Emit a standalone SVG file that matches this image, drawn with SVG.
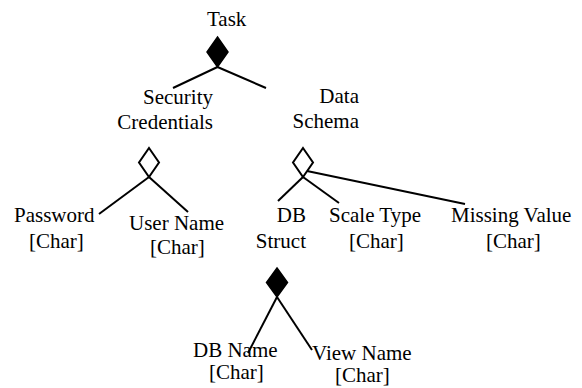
<svg xmlns="http://www.w3.org/2000/svg" width="582" height="388" viewBox="0 0 582 388">
<style>
text{font-family:"Liberation Serif","Times New Roman",serif;font-size:21px;fill:#000}
.e{text-anchor:end}
.c{stroke:#000;stroke-width:2;fill:none}
.df{fill:#000;stroke:#000;stroke-width:1.5}
.dh{fill:#fff;stroke:#000;stroke-width:2}
</style>
<rect width="582" height="388" fill="#fff"/>
<g id="connectors">
<line class="c" x1="217.5" y1="67" x2="173" y2="88"/>
<line class="c" x1="217.5" y1="67" x2="266" y2="88"/>
<line class="c" x1="149" y1="177" x2="99" y2="214"/>
<line class="c" x1="149" y1="177" x2="188" y2="212"/>
<line class="c" x1="303" y1="177" x2="278" y2="201"/>
<line class="c" x1="303" y1="177" x2="339" y2="203"/>
<line class="c" x1="307" y1="171" x2="465" y2="204"/>
<line class="c" x1="277" y1="297" x2="248" y2="353"/>
<line class="c" x1="277" y1="297" x2="312" y2="350"/>
</g>
<g id="task"><text x="207" y="26">Task</text>
<polygon class="df" points="217.5,37 228,52 217.5,67 207,52"/></g>
<g id="security"><text class="e" x="213" y="104">Security</text><text class="e" x="213" y="129">Credentials</text>
<polygon class="dh" points="149,148 159,162.5 149,177 139,162.5"/></g>
<g id="schema"><text class="e" x="359" y="103">Data</text><text class="e" x="359" y="128">Schema</text>
<polygon class="dh" points="303,148 313,162.5 303,177 293,162.5"/></g>
<g id="password"><text x="14" y="222">Password</text><text x="29" y="248">[Char]</text></g>
<g id="username"><text x="129" y="230">User Name</text><text x="150" y="254">[Char]</text></g>
<g id="dbstruct"><text class="e" x="306" y="222">DB</text><text class="e" x="306" y="248">Struct</text>
<polygon class="df" points="277,268 287.5,282.5 277,297 266.5,282.5"/></g>
<g id="scaletype"><text x="329" y="222">Scale Type</text><text x="349" y="248">[Char]</text></g>
<g id="missingvalue"><text x="451" y="222">Missing Value</text><text x="486" y="248">[Char]</text></g>
<g id="dbname"><text x="193" y="357">DB Name</text><text x="209" y="379">[Char]</text></g>
<g id="viewname"><text x="312" y="360">View Name</text><text x="335" y="382">[Char]</text></g>
</svg>
